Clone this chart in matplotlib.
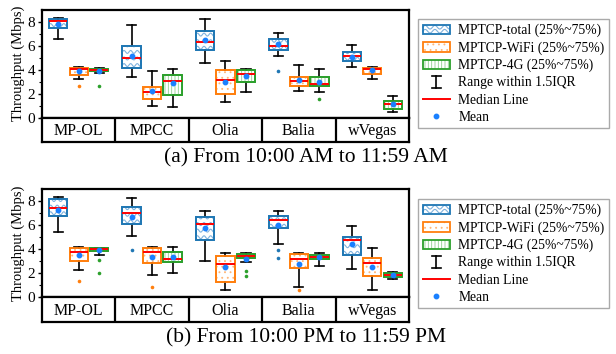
import numpy as np
import matplotlib
matplotlib.use("Agg")
import matplotlib.pyplot as plt
from matplotlib.patches import Rectangle, PathPatch
from matplotlib.lines import Line2D
from matplotlib.legend_handler import HandlerBase

plt.rcParams['font.family'] = ['Liberation Serif', 'DejaVu Serif']
plt.rcParams['hatch.linewidth'] = 0.6

categories = ['MP-OL', 'MPCC', 'Olia', 'Balia', 'wVegas']
series_names = ['MPTCP-total (25%~75%)', 'MPTCP-WiFi (25%~75%)', 'MPTCP-4G (25%~75%)']
captions = ['(a) From 10:00 AM to 11:59 AM', '(b) From 10:00 PM to 11:59 PM']

# each row: [whisker low, q1, median, q3, whisker high, mean]
am_total = [[6.57, 7.52, 8.06, 8.22, 8.30, 7.83],
            [3.36, 4.17, 5.00, 6.01, 7.78, 5.17],
            [4.53, 5.62, 6.29, 7.24, 8.22, 6.49],
            [5.15, 5.65, 6.01, 6.57, 7.10, 6.15],
            [4.25, 4.70, 5.12, 5.45, 6.04, 5.03]]
am_wifi = [[3.24, 3.58, 4.06, 4.14, 4.25, 3.89],
           [1.00, 1.57, 2.10, 2.57, 3.86, 2.24],
           [1.31, 1.96, 3.13, 3.97, 4.73, 2.97],
           [2.24, 2.63, 3.08, 3.38, 4.39, 3.13],
           [3.24, 3.66, 4.03, 4.14, 4.22, 3.94]]
am_4g = [[3.69, 3.86, 3.94, 4.06, 4.17, 3.86],
         [0.87, 1.90, 3.05, 3.58, 4.03, 2.90],
         [2.10, 2.99, 3.64, 3.97, 4.08, 3.47],
         [2.13, 2.66, 2.80, 3.36, 4.03, 2.99],
         [0.48, 0.73, 1.09, 1.37, 1.79, 1.12]]
am_total_fliers = [[], [], [], [3.92], []]
am_wifi_fliers = [[2.66], [], [], [], []]
am_4g_fliers = [[2.63], [], [], [1.57], []]

pm_total = [[5.41, 6.76, 7.44, 8.14, 8.31, 7.27],
            [5.07, 6.08, 6.96, 7.52, 8.25, 6.70],
            [2.96, 4.76, 6.08, 6.70, 7.15, 5.75],
            [4.42, 5.72, 6.45, 6.76, 7.15, 6.03],
            [2.31, 3.46, 4.73, 5.01, 5.89, 4.39]]
pm_wifi = [[2.28, 2.96, 3.77, 4.08, 4.14, 3.46],
           [1.86, 2.87, 3.72, 4.06, 4.17, 3.35],
           [0.62, 1.27, 2.79, 3.38, 3.66, 2.48],
           [0.85, 2.39, 3.13, 3.58, 3.69, 2.79],
           [0.59, 1.75, 2.85, 3.24, 4.06, 2.54]]
pm_4g = [[3.52, 3.80, 4.03, 4.08, 4.11, 3.92],
         [2.03, 2.93, 3.18, 3.77, 4.17, 3.35],
         [2.90, 3.21, 3.38, 3.55, 3.63, 3.18],
         [2.62, 3.13, 3.35, 3.52, 3.63, 3.30],
         [1.46, 1.66, 1.83, 2.00, 2.11, 1.80]]
pm_total_fliers = [[], [3.94], [], [3.89, 3.21], []]
pm_wifi_fliers = [[1.30], [0.87], [], [0.56], []]
pm_4g_fliers = [[3.07, 2.00], [], [2.20, 1.75], [], []]

colors = ['#1f77b4', '#ff7f0e', '#2ca02c']
light = ['#7fb2de', '#ffb677', '#8fd08f']
hatches = [None, '...', '|||||']
mean_color = '#1a80ff'
offsets = [-0.28, 0.0, 0.28]
box_w = 0.25


def make_stats(rows, fliers):
    out = []
    for r, f in zip(rows, fliers):
        out.append(dict(whislo=r[0], q1=r[1], med=r[2], q3=r[3], whishi=r[4],
                        mean=r[5], fliers=np.array(f)))
    return out


def add_waves(ax, patch, x0, x1, y0, y1, color):
    # wavy fill texture, clipped to the box
    xs = np.linspace(x0, x1, 80)
    step, amp, period = 0.55, 0.12, 0.09
    y = y0 + step * 0.4
    while y < y1 + step:
        ln, = ax.plot(xs, y + amp * np.sin(2 * np.pi * (xs - x0) / period),
                      color=color, lw=0.8, zorder=2.1)
        ln.set_clip_path(patch)
        y += step


def draw_panel(ax, lab_ax, data, fliers):
    pos0 = np.arange(len(categories))
    for i in range(3):
        stats = make_stats(data[i], fliers[i])
        pos = pos0 + offsets[i]
        res = ax.bxp(stats, positions=pos, widths=box_w, patch_artist=True,
                     showmeans=True, manage_ticks=False,
                     boxprops=dict(facecolor='white', edgecolor=colors[i], lw=1.3),
                     whiskerprops=dict(color='black', lw=1.2),
                     capprops=dict(color='black', lw=1.2),
                     medianprops=dict(color='red', lw=1.4),
                     meanprops=dict(marker='o', mfc=mean_color, mec=mean_color, ms=3.2),
                     flierprops=dict(marker='o', mfc=colors[i], mec='none', ms=2.6))
        for box, st, p in zip(res['boxes'], stats, pos):
            box.set_zorder(2)
            if hatches[i]:
                ov = PathPatch(box.get_path(), facecolor='none', edgecolor=light[i],
                               lw=0, hatch=hatches[i], zorder=2.1)
                ax.add_patch(ov)
            else:
                add_waves(ax, box, p - box_w / 2, p + box_w / 2, st['q1'], st['q3'], light[i])
            edge = PathPatch(box.get_path(), facecolor='none', edgecolor=colors[i],
                             lw=1.3, zorder=2.3)
            ax.add_patch(edge)
        for ln in res['medians']:
            ln.set_zorder(3)
        for ln in res['means']:
            ln.set_zorder(4)
    ax.set_xlim(-0.5, len(categories) - 0.5)
    ax.set_ylim(0, 9)
    ax.set_xticks([])
    ax.set_yticks([0, 2, 4, 6, 8])
    ax.set_yticks([1, 3, 5, 7], minor=True)
    ax.tick_params(axis='y', labelsize=11, width=1.0, length=3, pad=2)
    ax.tick_params(axis='y', which='minor', width=0.8, length=2)
    for s in ax.spines.values():
        s.set_linewidth(1.6)

    lab_ax.set_xlim(-0.5, len(categories) - 0.5)
    lab_ax.set_ylim(0, 1)
    lab_ax.set_xticks([])
    lab_ax.set_yticks([])
    for s in lab_ax.spines.values():
        s.set_linewidth(1.6)
    for k, name in enumerate(categories):
        lab_ax.text(k, 0.45, name, ha='center', va='center', fontsize=11.5)
        if k > 0:
            lab_ax.axvline(k - 0.5, color='black', lw=1.6)


class BoxHandler(HandlerBase):
    def __init__(self, idx):
        super().__init__()
        self.idx = idx

    def create_artists(self, legend, orig_handle, xdescent, ydescent, width,
                       height, fontsize, trans):
        x0, y0 = -xdescent, -ydescent
        arts = [Rectangle((x0, y0), width, height, facecolor='white',
                          edgecolor='none', transform=trans)]
        if hatches[self.idx]:
            arts.append(Rectangle((x0, y0), width, height, facecolor='none',
                                  edgecolor=light[self.idx], lw=0,
                                  hatch=hatches[self.idx], transform=trans))
        else:
            xs = np.linspace(x0, x0 + width, 60)
            for frac in (0.3, 0.72):
                ys = y0 + height * frac + 1.3 * np.sin(2 * np.pi * (xs - x0) / 7.0)
                arts.append(Line2D(xs, ys, color=light[self.idx], lw=0.8, transform=trans))
        arts.append(Rectangle((x0, y0), width, height, facecolor='none',
                              edgecolor=colors[self.idx], lw=1.3, transform=trans))
        return arts


class RangeHandler(HandlerBase):
    def create_artists(self, legend, orig_handle, xdescent, ydescent, width,
                       height, fontsize, trans):
        xc = -xdescent + width / 2
        y0, y1 = -ydescent - 1, -ydescent + height + 1
        cw = 3.5
        return [Line2D([xc, xc], [y0, y1], color='black', lw=1.2, transform=trans),
                Line2D([xc - cw, xc + cw], [y0, y0], color='black', lw=1.2, transform=trans),
                Line2D([xc - cw, xc + cw], [y1, y1], color='black', lw=1.2, transform=trans)]


fig = plt.figure(figsize=(6.16, 3.54), dpi=100)
W, H = 616.0, 354.0
left, right = 42 / W, 409 / W

ax1 = fig.add_axes([left, 1 - 117.5 / H, right - left, 107.5 / H])
lab1 = fig.add_axes([left, 1 - 142 / H, right - left, 24.5 / H])
ax2 = fig.add_axes([left, 1 - 297 / H, right - left, 108 / H])
lab2 = fig.add_axes([left, 1 - 322 / H, right - left, 25 / H])

draw_panel(ax1, lab1, [am_total, am_wifi, am_4g],
           [am_total_fliers, am_wifi_fliers, am_4g_fliers])
draw_panel(ax2, lab2, [pm_total, pm_wifi, pm_4g],
           [pm_total_fliers, pm_wifi_fliers, pm_4g_fliers])

for ax in (ax1, ax2):
    ax.set_ylabel('Throughput (Mbps)', fontsize=10.5, labelpad=2)

for cap, yc in zip(captions, (158, 338)):
    fig.text(306 / W, 1 - yc / H, cap, ha='center', va='center', fontsize=15.5)

handles = [Rectangle((0, 0), 1, 1) for _ in range(3)]
range_h = Line2D([], [])
median_h = Line2D([], [], color='red', lw=1.4)
mean_h = Line2D([], [], marker='o', ls='none', mfc=mean_color, mec=mean_color, ms=3.2)
labels = series_names + ['Range within 1.5IQR', 'Median Line', 'Mean']
hmap = {handles[0]: BoxHandler(0), handles[1]: BoxHandler(1),
        handles[2]: BoxHandler(2), range_h: RangeHandler()}

for top in (19, 199):
    fig.legend(handles + [range_h, median_h, mean_h], labels, handler_map=hmap,
               loc='upper left', bbox_to_anchor=(418 / W, 1 - top / H),
               borderaxespad=0, fontsize=9.8, frameon=True, fancybox=False,
               edgecolor='#aaaaaa', framealpha=1, handlelength=2.0,
               handletextpad=0.6, labelspacing=0.3, borderpad=0.35)

fig.savefig('out.png', dpi=100)
